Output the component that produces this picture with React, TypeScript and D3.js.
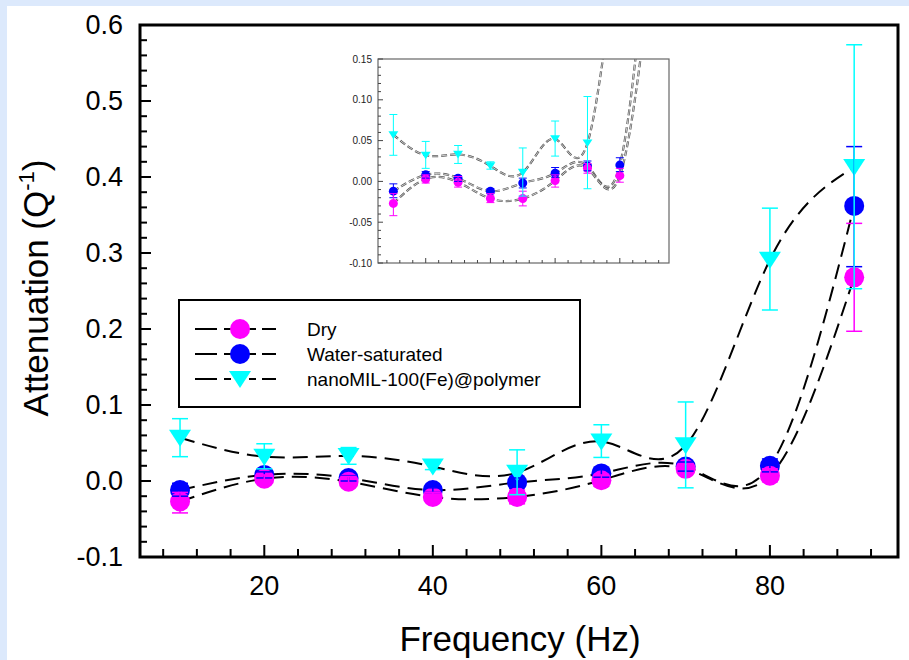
import React from 'react';
import * as d3 from 'd3';

// frequencies (Hz)
const freq = [10, 20, 30, 40, 50, 60, 70, 80, 90];

// Dry
const dry = [-0.027, 0.003, -0.001, -0.021, -0.021, 0.001, 0.016, 0.007, 0.268];
const dryLo = [-0.042, -0.002, -0.007, -0.026, -0.030, -0.007, 0.010, -0.001, 0.197];
const dryHi = [-0.015, 0.008, 0.006, -0.015, -0.012, 0.008, 0.022, 0.016, 0.339];

// Water-saturated
const water = [-0.012, 0.008, 0.004, -0.012, -0.002, 0.010, 0.019, 0.020, 0.362];
const waterLo = [-0.020, 0.004, 0.000, -0.015, -0.008, 0.005, 0.013, 0.012, 0.282];
const waterHi = [-0.003, 0.012, 0.007, -0.009, 0.004, 0.017, 0.025, 0.029, 0.440];

// nanoMIL-100(Fe)@polymer
const nano = [0.057, 0.032, 0.033, 0.019, 0.011, 0.052, 0.047, 0.291, 0.413];
const nanoLo = [0.032, 0.016, 0.022, 0.015, -0.018, 0.031, -0.009, 0.225, 0.253];
const nanoHi = [0.082, 0.049, 0.044, 0.024, 0.041, 0.074, 0.104, 0.359, 0.574];

const xTicks = [20, 40, 60, 80];
const yTicks = [-0.1, 0, 0.1, 0.2, 0.3, 0.4, 0.5, 0.6];
const insetYTicks = [-0.1, -0.05, 0, 0.05, 0.1, 0.15];

const legendLabels = ['Dry', 'Water-saturated', 'nanoMIL-100(Fe)@polymer'];

const FONT = 'Liberation Sans, Arial, sans-serif';
const MAGENTA = '#ff00ff';
const BLUE = '#0000ff';
const CYAN = '#00ffff';

const series = [
  { key: 'water', vals: water, lo: waterLo, hi: waterHi, color: BLUE, shape: 'circle' },
  { key: 'dry', vals: dry, lo: dryLo, hi: dryHi, color: MAGENTA, shape: 'circle' },
  { key: 'nano', vals: nano, lo: nanoLo, hi: nanoHi, color: CYAN, shape: 'tri' },
];

const Marker = ({ shape, x, y, color, s }: any) =>
  shape === 'circle' ? (
    <circle cx={x} cy={y} r={10 * s} fill={color} />
  ) : (
    <path d={`M${x - 11 * s},${y - 8 * s}L${x + 11 * s},${y - 8 * s}L${x},${y + 9 * s}Z`} fill={color} />
  );

const App = () => {
  const W = 909;
  const H = 660;

  // main plot
  const x = d3.scaleLinear().domain([5.25, 95.2]).range([140, 898]);
  const y = d3.scaleLinear().domain([-0.1, 0.6]).range([557, 25]);

  // inset
  const xi = d3.scaleLinear().domain([5.25, 95.2]).range([378, 669]);
  const yi = d3.scaleLinear().domain([-0.1, 0.15]).range([263, 59]);

  const line = d3.line<number>().x((d, i) => x(freq[i])).y(d => y(d)).curve(d3.curveNatural);
  const lineI = d3.line<number>().x((d, i) => xi(freq[i])).y(d => yi(d)).curve(d3.curveNatural);

  const xMinor = d3.range(8, 95, 4);
  const yMinor = d3.range(-0.1, 0.6001, 0.02);
  const yiMinor = d3.range(-0.1, 0.1501, 0.01);

  return (
    <svg width={W} height={H} style={{ position: 'absolute', left: 0, top: 0 }} fontFamily={FONT}>
      <rect x={0} y={0} width={W} height={H} fill="#dce9fc" />
      <rect x={7} y={6} width={W - 7} height={H - 6} fill="#ffffff" />

      <defs>
        <clipPath id="mainClip">
          <rect x={140} y={25} width={758} height={532} />
        </clipPath>
        <clipPath id="insetClip">
          <rect x={378} y={59} width={291} height={204} />
        </clipPath>
      </defs>

      {/* main curves */}
      <g clipPath="url(#mainClip)">
        {series.map(s => (
          <path key={s.key} d={line(s.vals) || ''} fill="none" stroke="#000" strokeWidth={2} strokeDasharray="15 8" />
        ))}
      </g>

      {/* main markers */}
      {series.map(s => (
        <g key={s.key}>
          {s.vals.map((v, i) => (
            <Marker key={i} shape={s.shape} x={x(freq[i])} y={y(v)} color={s.color} s={1} />
          ))}
        </g>
      ))}

      {/* main error bars */}
      {series.map(s => (
        <g key={s.key} stroke={s.color} strokeWidth={1.5}>
          {s.vals.map((v, i) => {
            const cx = x(freq[i]);
            return (
              <g key={i}>
                <line x1={cx} x2={cx} y1={y(s.lo[i])} y2={y(s.hi[i])} />
                <line x1={cx - 8} x2={cx + 8} y1={y(s.lo[i])} y2={y(s.lo[i])} />
                <line x1={cx - 8} x2={cx + 8} y1={y(s.hi[i])} y2={y(s.hi[i])} />
              </g>
            );
          })}
        </g>
      ))}

      {/* main frame + ticks */}
      <rect x={140} y={25} width={758} height={532} fill="none" stroke="#000" strokeWidth={3} />
      {xMinor.map(t => (
        <line key={t} x1={x(t)} x2={x(t)} y1={557} y2={557 - (xTicks.includes(t) ? 12 : 8)} stroke="#000" strokeWidth={2} />
      ))}
      {yMinor.map((t, i) => (
        <line key={i} x1={140} x2={140 + (i % 5 === 0 ? 11 : 7)} y1={y(t)} y2={y(t)} stroke="#000" strokeWidth={2} />
      ))}
      {xTicks.map(t => (
        <text key={t} x={x(t)} y={595} fontSize={27} textAnchor="middle">
          {t}
        </text>
      ))}
      {yTicks.map(t => (
        <text key={t} x={123} y={y(t)} fontSize={27} textAnchor="end" dominantBaseline="central">
          {t.toFixed(1)}
        </text>
      ))}

      {/* axis titles */}
      <text x={520} y={651} fontSize={35} textAnchor="middle">
        Frequency (Hz)
      </text>
      <text transform="translate(48,288) rotate(-90)" fontSize={35} textAnchor="middle">
        Attenuation (Q<tspan fontSize={22} dy={-14}>-1</tspan>
        <tspan dy={14}>)</tspan>
      </text>

      {/* legend */}
      <rect x={179} y={300} width={401} height={107} fill="#fff" stroke="#000" strokeWidth={2} />
      {series
        .slice()
        .sort((a, b) => ['dry', 'water', 'nano'].indexOf(a.key) - ['dry', 'water', 'nano'].indexOf(b.key))
        .map((s, i) => {
          const ly = 329 + i * 25;
          return (
            <g key={s.key}>
              <line x1={195} x2={217} y1={ly} y2={ly} stroke="#000" strokeWidth={2} />
              <line x1={224} x2={231} y1={ly} y2={ly} stroke="#000" strokeWidth={2} />
              <line x1={249} x2={256} y1={ly} y2={ly} stroke="#000" strokeWidth={2} />
              <line x1={262} x2={276} y1={ly} y2={ly} stroke="#000" strokeWidth={2} />
              <Marker shape={s.shape} x={240} y={ly} color={s.color} s={1} />
              <text x={307} y={ly} fontSize={19} dominantBaseline="central">
                {legendLabels[i]}
              </text>
            </g>
          );
        })}

      {/* inset */}
      <rect x={378} y={59} width={291} height={204} fill="#fff" />
      <g clipPath="url(#insetClip)">
        {series.map(s => (
          <g key={s.key}>
            <path d={lineI(s.vals) || ''} fill="none" stroke="#555" strokeWidth={2.2} strokeDasharray="6 3" />
            <path d={lineI(s.vals) || ''} fill="none" stroke="#fff" strokeWidth={0.7} strokeDasharray="6 3" />
          </g>
        ))}
        {series.map(s => (
          <g key={s.key}>
            {s.vals.map((v, i) => (
              <Marker key={i} shape={s.shape} x={xi(freq[i])} y={yi(v)} color={s.color} s={0.45} />
            ))}
          </g>
        ))}
        {series.map(s => (
          <g key={s.key} stroke={s.color} strokeWidth={1}>
            {s.vals.map((v, i) => {
              const cx = xi(freq[i]);
              return (
                <g key={i}>
                  <line x1={cx} x2={cx} y1={yi(s.lo[i])} y2={yi(s.hi[i])} />
                  <line x1={cx - 4} x2={cx + 4} y1={yi(s.lo[i])} y2={yi(s.lo[i])} />
                  <line x1={cx - 4} x2={cx + 4} y1={yi(s.hi[i])} y2={yi(s.hi[i])} />
                </g>
              );
            })}
          </g>
        ))}
      </g>
      <rect x={378} y={59} width={291} height={204} fill="none" stroke="#666" strokeWidth={1.2} />
      {xMinor.map(t => (
        <line key={t} x1={xi(t)} x2={xi(t)} y1={263} y2={263 - (xTicks.includes(t) ? 5 : 3)} stroke="#444" strokeWidth={1} />
      ))}
      {yiMinor.map((t, i) => (
        <line key={i} x1={378} x2={378 + (i % 5 === 0 ? 5 : 3)} y1={yi(t)} y2={yi(t)} stroke="#444" strokeWidth={1} />
      ))}
      {insetYTicks.map(t => (
        <text key={t} x={372} y={yi(t)} fontSize={10} fill="#222" textAnchor="end" dominantBaseline="central">
          {t.toFixed(2)}
        </text>
      ))}
    </svg>
  );
};

export default App;
